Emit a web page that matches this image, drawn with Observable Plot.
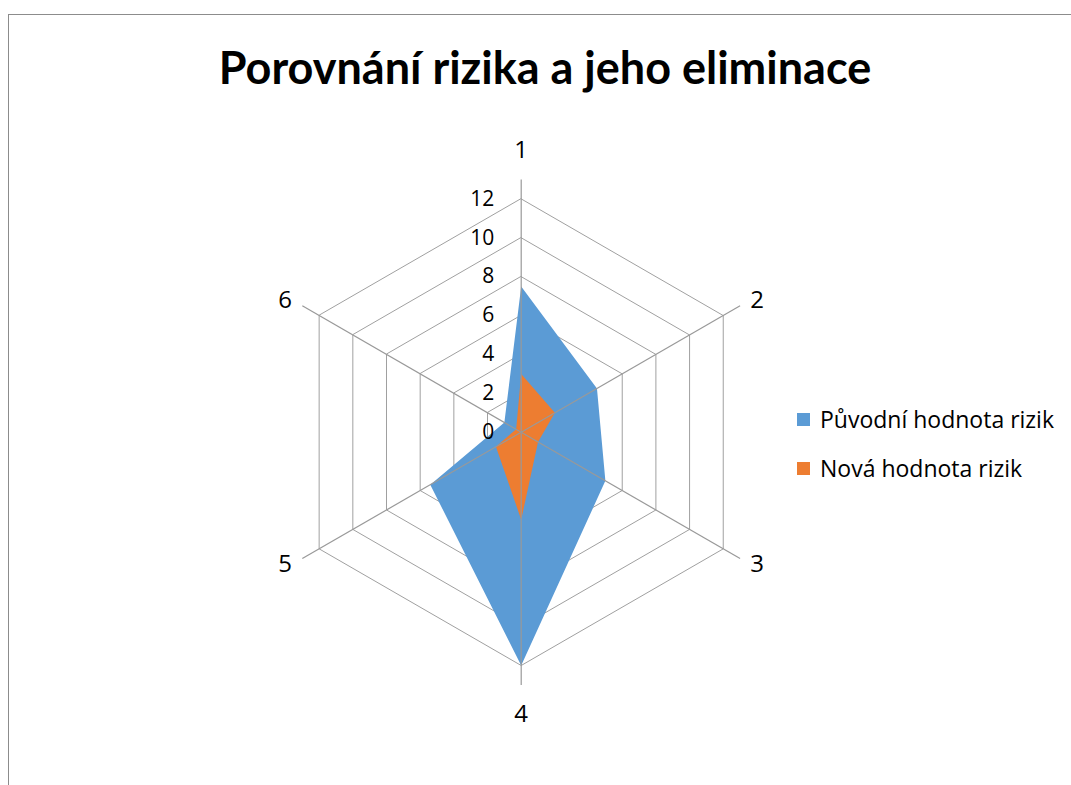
<!DOCTYPE html>
<html>
<head>
<meta charset="utf-8">
<script src="https://cdn.jsdelivr.net/npm/d3@7"></script>
<script src="https://cdn.jsdelivr.net/npm/@observablehq/plot@0.6"></script>
<style>
  body { margin: 0; background: #fff; font-family: "Open Sans", sans-serif; }
  #wrap { position: relative; width: 1071px; height: 785px; overflow: hidden; }
  #frame { position: absolute; left: 8px; top: 14px; width: 1200px; height: 900px; border: 1px solid #8c8c8c; box-sizing: border-box; }
  #title { position: absolute; left: 0; width: 1090px; top: 37px; text-align: center; font-family: Lato, sans-serif; font-weight: bold; font-size: 45px; line-height: 60px; color: #000; }
  #chart { position: absolute; left: 0; top: 0; }
  .leg { position: absolute; left: 797px; font-size: 23px; line-height: 30px; color: #000; display: flex; align-items: center; white-space: nowrap; }
  .sw { width: 13px; height: 13px; margin-right: 10px; }
</style>
</head>
<body>
<div id="wrap">
  <div id="frame"></div>
  <div id="chart"></div>
  <div id="title">Porovnání rizika a jeho eliminace</div>
  <div class="leg" style="top:404px"><div class="sw" style="background:#5b9bd5"></div>Původní hodnota rizik</div>
  <div class="leg" style="top:453px"><div class="sw" style="background:#ed7d31"></div>Nová hodnota rizik</div>
</div>
<script>
const categories = ["1", "2", "3", "4", "5", "6"];
const puvodni = [7.5, 4.5, 5, 12, 5.4, 1];
const nova = [3, 2, 1, 4.5, 1.5, 0.3];
const ticks = [0, 2, 4, 6, 8, 10, 12];
const seriesNames = ["Původní hodnota rizik", "Nová hodnota rizik"];
const colors = ["#5b9bd5", "#ed7d31"];

const n = categories.length;
const ang = i => (i * 2 * Math.PI) / n;
const px = (r, i) => r * Math.sin(ang(i));
const py = (r, i) => r * Math.cos(ang(i));

const rings = ticks.filter(t => t > 0).flatMap(t => categories.map((c, i) => ({ t, i })));
const series = [puvodni, nova].flatMap((vals, s) =>
  vals.map((v, i) => ({ s: seriesNames[s], v, i }))
);
const unit = 233.3 / 12;
const cx = 520.7, cy = 431.7;

const chart = Plot.plot({
  width: 1071,
  height: 785,
  margin: 0,
  x: { domain: [-cx / unit, (1071 - cx) / unit], range: [0, 1071], axis: null },
  y: { domain: [-(785 - cy) / unit, cy / unit], range: [785, 0], axis: null },
  style: { fontFamily: "'Open Sans', sans-serif", background: "transparent" },
  color: { domain: seriesNames, range: colors },
  marks: [
    Plot.line(rings, {
      x: d => px(d.t, d.i), y: d => py(d.t, d.i), z: "t",
      curve: "linear-closed", stroke: "#a0a0a0", strokeWidth: 1
    }),
    Plot.line(series, {
      x: d => px(d.v, d.i), y: d => py(d.v, d.i), z: "s",
      curve: "linear-closed", fill: d => d.s, stroke: "none"
    }),
    Plot.link(categories, {
      x1: () => 0, y1: () => 0,
      x2: (d, i) => px(13, i), y2: (d, i) => py(13, i),
      stroke: "#999999", strokeWidth: 1.2
    }),
    Plot.text(ticks, {
      x: () => 0, y: d => d, text: d => String(d),
      textAnchor: "end", dx: -27, fontSize: 21, fill: "#000"
    }),
    Plot.text(categories.filter((d, i) => i % 3 === 0), {
      x: () => 0,
      y: d => py(14.5, categories.indexOf(d)),
      text: d => d, fontSize: 24, fill: "#000"
    }),
    Plot.text(categories.filter((d, i) => i % 3 !== 0 && i < 3), {
      x: d => px(13.6, categories.indexOf(d)),
      y: d => py(13.6, categories.indexOf(d)),
      dx: 7, text: d => d, fontSize: 24, fill: "#000"
    }),
    Plot.text(categories.filter((d, i) => i > 3), {
      x: d => px(13.6, categories.indexOf(d)),
      y: d => py(13.6, categories.indexOf(d)),
      dx: -7, text: d => d, fontSize: 24, fill: "#000"
    })
  ]
});
document.getElementById("chart").appendChild(chart);
</script>
</body>
</html>
